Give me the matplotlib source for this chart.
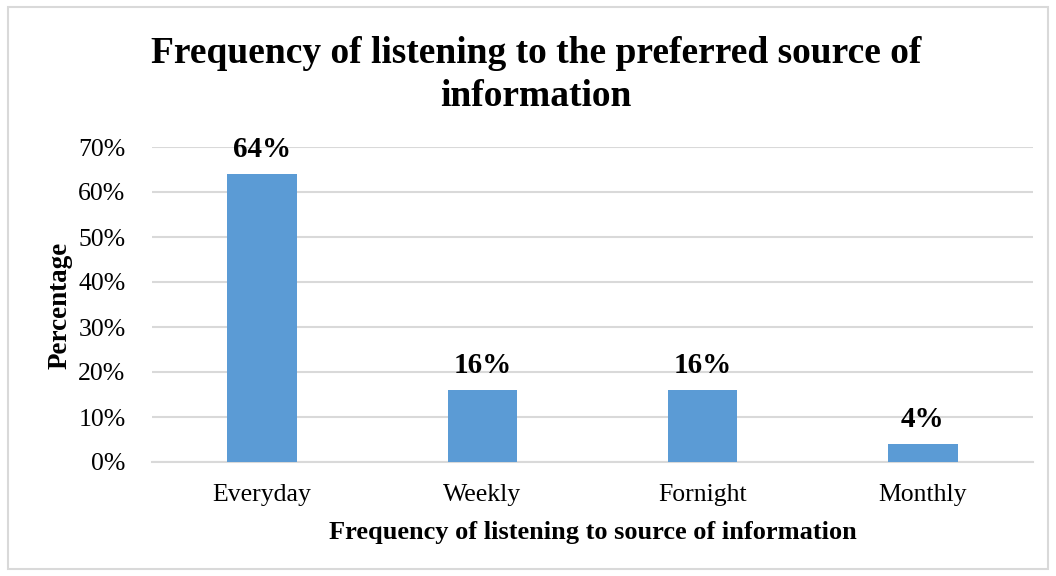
import matplotlib.pyplot as plt
from matplotlib.patches import Rectangle
from matplotlib.ticker import PercentFormatter

categories = ['Everyday', 'Weekly', 'Fornight', 'Monthly']
values = [64, 16, 16, 4]
yticks = [0, 10, 20, 30, 40, 50, 60, 70]

plt.rcParams['font.family'] = ['Liberation Serif', 'DejaVu Serif']

W, H = 1056, 576
fig = plt.figure(figsize=(W / 100, H / 100), dpi=100)
ax = fig.add_axes([152 / W, 1 - 462 / H, (1033 - 152) / W, (462 - 147) / H])

bars = ax.bar(range(len(categories)), values, width=0.315, color='#5B9BD5', zorder=3)
for i, v in enumerate(values):
    ax.annotate(f'{v}%', (i, v), xytext=(0, 12), textcoords='offset points',
                ha='center', va='baseline', fontsize=21, fontweight='bold')

ax.set_xlim(-0.5, len(categories) - 0.5)
ax.set_ylim(0, 70)
ax.set_yticks(yticks)
ax.yaxis.set_major_formatter(PercentFormatter(decimals=0))
ax.set_xticks(range(len(categories)))
ax.set_xticklabels(categories)
ax.tick_params(axis='both', length=0, labelsize=18.5)
ax.tick_params(axis='x', pad=16)
ax.tick_params(axis='y', pad=19)
ax.grid(axis='y', color='#D9D9D9', linewidth=1.5, zorder=0)
for s in ['top', 'right', 'left']:
    ax.spines[s].set_visible(False)
ax.spines['bottom'].set_color('#D9D9D9')
ax.spines['bottom'].set_linewidth(1.5)

fig.text(536 / W, 1 - 63 / H, 'Frequency of listening to the preferred source of',
         ha='center', va='baseline', fontsize=27, fontweight='bold')
fig.text(536 / W, 1 - 106 / H, 'information',
         ha='center', va='baseline', fontsize=27, fontweight='bold')
fig.text(593 / W, 1 - 532 / H, 'Frequency of listening to source of information',
         ha='center', va='center', fontsize=19, fontweight='bold')
fig.text(60 / W, 1 - 305 / H, 'Percentage', rotation=90,
         ha='center', va='center', fontsize=19.5, fontweight='bold')

fig.patches.append(Rectangle((8 / W, 1 - 569 / H), (1048 - 8) / W, (569 - 7) / H,
                             transform=fig.transFigure, fill=False,
                             edgecolor='#D9D9D9', linewidth=1.5))

fig.savefig('out.png', dpi=100)
